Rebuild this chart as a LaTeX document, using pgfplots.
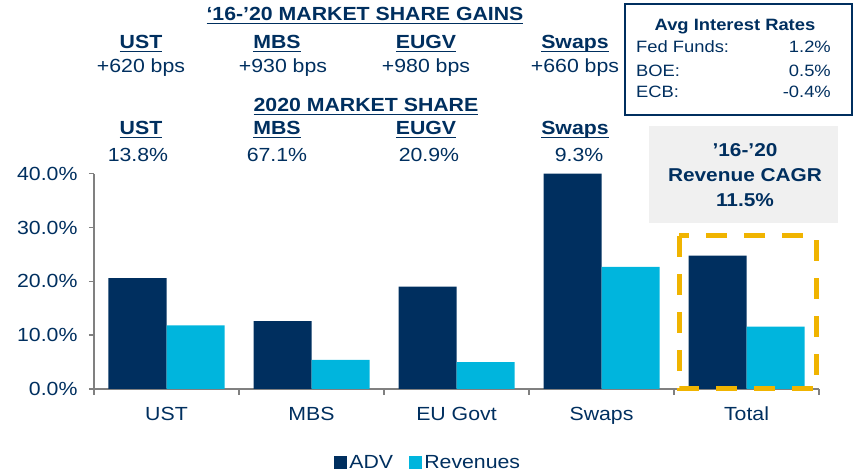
\documentclass[border=0pt]{standalone}
\usepackage{fontspec}
\setmainfont{Liberation Sans}[FakeStretch=1.12]
\usepackage{pgfplots}
\pgfplotsset{compat=1.18}

\definecolor{navy}{HTML}{002F5F}
\definecolor{cyanbar}{HTML}{00B5DD}
\definecolor{gold}{HTML}{F0B400}
\definecolor{axgray}{HTML}{808080}
\definecolor{boxgray}{HTML}{F0F0F0}

\newcommand\fs[1]{\fontsize{#1}{#1}\selectfont}
% underline with a thicker rule than \underline gives
\newcommand\ul[1]{\sbox0{#1}\rlap{\rule[-3.2pt]{\wd0}{1.6pt}}\usebox0}

\begin{document}
\begin{tikzpicture}[
    t/.style={text=navy, inner sep=0pt, anchor=base, font=\fs{19}},
    tb/.style={t, font=\fs{19}\bfseries},
]
\useasboundingbox (0,0) rectangle (855pt,473pt);

\begin{axis}[
    at={(94pt,84pt)}, anchor=south west,
    scale only axis,
    width=725pt, height=215.3pt,
    xmin=-0.5, xmax=4.5,
    ymin=0, ymax=40,
    clip=false,
    ybar, bar width=0.4,
    axis x line*=bottom, axis y line*=left,
    axis line style={-, draw=axgray, line width=1.5pt},
    tick align=outside,
    xtick={0,1,2,3,4},
    xticklabels={UST, MBS, EU Govt, Swaps, Total},
    major x tick style={draw=none},
    minor xtick={-0.5,0.5,1.5,2.5,3.5,4.5},
    minor tick length=6pt,
    minor x tick style={draw=axgray, line width=1.5pt},
    ytick={0,10,20,30,40},
    yticklabels={0.0\%, 10.0\%, 20.0\%, 30.0\%, 40.0\%},
    major tick length=5pt,
    y tick style={draw=axgray, line width=1.5pt},
    tick label style={text=navy, font=\fs{19}},
    xticklabel style={anchor=base, yshift=-27pt},
    yticklabel style={anchor=east, xshift=-8pt},
    legend style={draw=none, fill=none, at={(0.461,-0.344)}, anchor=center,
        legend columns=2, font=\fs{19}, text=navy, legend cell align=left},
    legend image code/.code={\fill (0pt,-6pt) rectangle (13pt,7pt);},
]
\addplot[fill=navy, draw=none, bar shift=-0.2] coordinates {
    (0,20.6) (1,12.6) (2,19.0) (3,40.0) (4,24.8)
};
\addlegendentry{\makebox[58pt][l]{ADV}}
\addplot[fill=cyanbar, draw=none, bar shift=0.2] coordinates {
    (0,11.8) (1,5.4) (2,5.0) (3,22.7) (4,11.6)
};
\addlegendentry{Revenues}
\end{axis}

% market share gains block
\node[tb] at (365pt,452pt) {\ul{‘16-’20 MARKET SHARE GAINS}};
\node[tb] at (141pt,424pt) {\ul{UST}};
\node[tb] at (277pt,424pt) {\ul{MBS}};
\node[tb] at (426pt,424pt) {\ul{EUGV}};
\node[tb] at (575pt,424pt) {\ul{Swaps}};
\node[t] at (141pt,400pt) {+620 bps};
\node[t] at (283pt,400pt) {+930 bps};
\node[t] at (426pt,400pt) {+980 bps};
\node[t] at (575pt,400pt) {+660 bps};

\node[tb] at (366pt,361pt) {\ul{2020 MARKET SHARE}};
\node[tb] at (141pt,338pt) {\ul{UST}};
\node[tb] at (277pt,338pt) {\ul{MBS}};
\node[tb] at (426pt,338pt) {\ul{EUGV}};
\node[tb] at (575pt,338pt) {\ul{Swaps}};
\node[t] at (138pt,311pt) {13.8\%};
\node[t] at (277pt,311pt) {67.1\%};
\node[t] at (429pt,311pt) {20.9\%};
\node[t] at (579pt,311pt) {9.3\%};

% interest rate box
\draw[navy, line width=2pt, fill=white] (625pt,469pt) rectangle (852pt,358pt);
\node[t, font=\fs{16.4}\bfseries] at (735pt,442pt) {Avg Interest Rates};
\node[t, font=\fs{16.4}, anchor=base west] at (636pt,420pt) {Fed Funds:};
\node[t, font=\fs{16.4}, anchor=base east] at (831pt,420pt) {1.2\%};
\node[t, font=\fs{16.4}, anchor=base west] at (636pt,396pt) {BOE:};
\node[t, font=\fs{16.4}, anchor=base east] at (831pt,396pt) {0.5\%};
\node[t, font=\fs{16.4}, anchor=base west] at (636pt,375pt) {ECB:};
\node[t, font=\fs{16.4}, anchor=base east] at (831pt,375pt) {-0.4\%};

% CAGR box
\fill[boxgray] (649pt,347pt) rectangle (838pt,250pt);
\node[t, font=\fs{18.6}\bfseries] at (745pt,316pt) {’16-’20};
\node[t, font=\fs{18.6}\bfseries] at (745pt,291pt) {Revenue CAGR};
\node[t, font=\fs{18.6}\bfseries] at (745pt,266pt) {11.5\%};

% highlight round Total
\draw[gold, line width=5pt, dash pattern=on 21pt off 17pt]
    (679pt,237pt) rectangle (816pt,84pt);
\end{tikzpicture}
\end{document}
